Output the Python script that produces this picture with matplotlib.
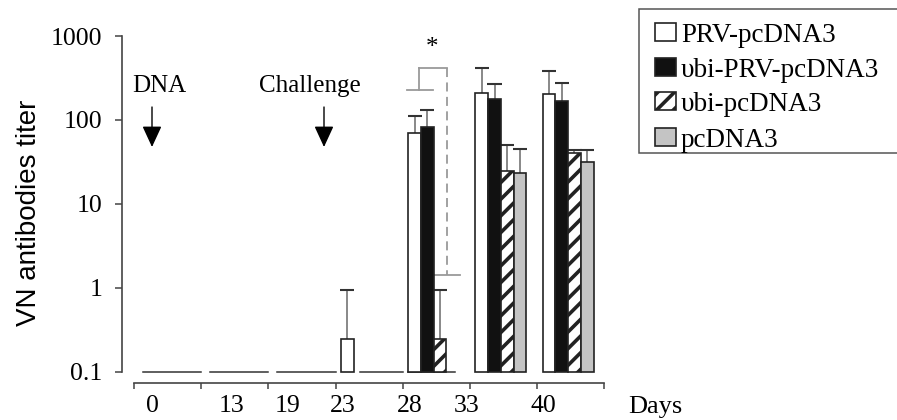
import matplotlib
matplotlib.use("Agg")
import matplotlib.pyplot as plt
from matplotlib.patches import Rectangle
import numpy as np

# ---------------- data ----------------
days = ["0", "13", "19", "23", "28", "33", "40"]
series = ["PRV-pcDNA3", "υbi-PRV-pcDNA3", "υbi-pcDNA3", "pcDNA3"]
prv_pcdna3 = [0, 0, 0, 0.25, 70, 210, 205]
ubi_prv_pcdna3 = [0, 0, 0, 0, 83, 178, 168]
ubi_pcdna3 = [0, 0, 0, 0, 0.25, 25, 40]
pcdna3 = [0, 0, 0, 0, 0, 23.5, 31.5]
# top of the (upper) error bars
prv_top = [0, 0, 0, 0.95, 112, 415, 380]
ubi_prv_top = [0, 0, 0, 0, 131, 268, 276]
ubi_top = [0, 0, 0, 0, 0.95, 50, 44]
pc_top = [0, 0, 0, 0, 0, 45, 44]
ytick_vals = [0.1, 1, 10, 100, 1000]
ytick_labels = ["0.1", "1", "10", "100", "1000"]

values = [prv_pcdna3, ubi_prv_pcdna3, ubi_pcdna3, pcdna3]
tops = [prv_top, ubi_prv_top, ubi_top, pc_top]

# ---------------- styles ----------------
faces = ["white", "#111111", "white", "#c4c4c4"]
hatches = [None, None, "//", None]
edge = "#222222"
plt.rcParams["hatch.linewidth"] = 2.6
plt.rcParams["hatch.color"] = "black"
serif = ["Liberation Serif", "DejaVu Serif"]

W, H = 897, 420
fig = plt.figure(figsize=(W / 100, H / 100), dpi=100)

u = 67.2          # pixels per group
x0px = 134        # pixel of group boundary 0
left_px, right_lim = 122, 7.3
xmin = (left_px - x0px) / u
top_px, bot_px = 36, 383
ax = fig.add_axes([left_px / W, (H - bot_px) / H,
                   (right_lim - xmin) * u / W, (bot_px - top_px) / H])
ax.set_yscale("log")
ax.set_xlim(xmin, right_lim)
ax.set_ylim(10 ** (-1 - 11 / 84), 1000)

base = 0.1
w = 0.19
off = 0.08
for k in range(len(days)):
    start = k + off
    vals = [values[s][k] for s in range(4)]
    nz = [i for i, v in enumerate(vals) if v > 0]
    # baseline lines for zero-valued groups
    if not nz:
        ax.plot([k + 0.13, k + 1.0], [base, base], color="#333", lw=1.1, zorder=1)
    else:
        j = max(nz)
        if j == 0:
            ax.plot([start + w + 0.1, k + 1.0], [base, base], color="#333", lw=1.1, zorder=1)
        elif j < 3:
            ax.plot([start, start + (j + 1) * w + 0.12], [base, base], color="#333", lw=1.1, zorder=1)
    for i in nz:
        xc = start + i * w + w / 2
        ax.bar(xc, vals[i] - base, bottom=base, width=w, color=faces[i],
               edgecolor=edge, linewidth=1.2, hatch=hatches[i], zorder=3)
        t = tops[i][k]
        if t > vals[i]:
            ax.vlines(xc, vals[i], t, color="#888", lw=1.4, zorder=2)
            ax.hlines(t, xc - 0.105, xc + 0.105, color="#333", lw=1.5, zorder=2)

# axes styling
for s in ["top", "right"]:
    ax.spines[s].set_visible(False)
ax.spines["left"].set_bounds(0.1, 1000)
ax.spines["bottom"].set_bounds(0, 7)
for s in ["left", "bottom"]:
    ax.spines[s].set_color("#444")
    ax.spines[s].set_linewidth(1.2)
ax.set_yticks(ytick_vals)
ax.set_yticklabels(ytick_labels, fontfamily=serif, fontsize=18.5)
ax.yaxis.set_minor_locator(matplotlib.ticker.NullLocator())
ax.tick_params(axis="y", direction="out", length=5, width=1.1, color="#444", pad=9)

ax.set_xticks(range(8))
ax.set_xticklabels([""] * 8)
ax.tick_params(axis="x", which="major", direction="out", length=4.3, width=1.1, color="#444")
label_pos = [0.28, 1.45, 2.28, 3.11, 4.1, 4.95, 6.09]
ax.set_xticks(label_pos, minor=True)
ax.set_xticklabels(days, minor=True, fontfamily=serif, fontsize=18.5)
ax.tick_params(axis="x", which="minor", length=0, pad=8.5)

def d(px):
    return (px - x0px) / u

def v(py):
    return 10 ** ((372 - py) / 84 - 1)

# annotations: DNA / Challenge
for txt, tx, axx in [("DNA", 159, 152), ("Challenge", 310, 324)]:
    ax.text(d(tx), v(92), txt, ha="center", va="baseline",
            fontfamily=serif, fontsize=18)
    ax.annotate("", xy=(d(axx), v(147)), xytext=(d(axx), v(107)),
                arrowprops=dict(arrowstyle="-|>,head_length=1.3,head_width=0.6",
                                mutation_scale=10, color="black", lw=1.0,
                                shrinkA=0, shrinkB=0))

# significance bracket
gc = "#9a9a9a"
ax.plot([d(407), d(433)], [v(90), v(90)], color=gc, lw=1.3)
ax.plot([d(419), d(419)], [v(90), v(68)], color=gc, lw=1.3)
ax.plot([d(419), d(447)], [v(68), v(68)], color=gc, lw=1.3)
ax.plot([d(447), d(447)], [v(68), v(275)], color=gc, lw=1.3, ls=(0, (5, 3)))
ax.plot([d(433), d(460)], [v(275), v(275)], color=gc, lw=1.3)
ax.text(d(432), v(48), "*", ha="center", va="center", fontfamily=serif, fontsize=18)

# y label and "Days"
fig.text(29 / W, 1 - 213 / H, "VN antibodies titer", rotation=90, ha="center",
         va="center", fontfamily=["Liberation Sans", "DejaVu Sans"], fontsize=20)
fig.text(655 / W, 1 - 413 / H, "Days", ha="center", va="baseline",
         fontfamily=serif, fontsize=19)

# legend (drawn in figure pixels)
def fx(px):
    return px / W

def fy(py):
    return 1 - py / H

fig.add_artist(Rectangle((fx(639), fy(153)), fx(920) - fx(639), fy(9) - fy(153),
                         transform=fig.transFigure, facecolor="white",
                         edgecolor="#555", lw=1.1))
baselines = [42, 77, 111, 147]
for i, name in enumerate(series):
    b = baselines[i]
    fig.add_artist(Rectangle((fx(655), fy(b - 1)), fx(676) - fx(655), fy(b - 19) - fy(b - 1),
                             transform=fig.transFigure, facecolor=faces[i],
                             edgecolor=edge, lw=1.2, hatch=hatches[i]))
    fig.text(fx(681), fy(b), name, ha="left", va="baseline",
             fontfamily=serif, fontsize=19.5)

fig.savefig("out.png", dpi=100)
